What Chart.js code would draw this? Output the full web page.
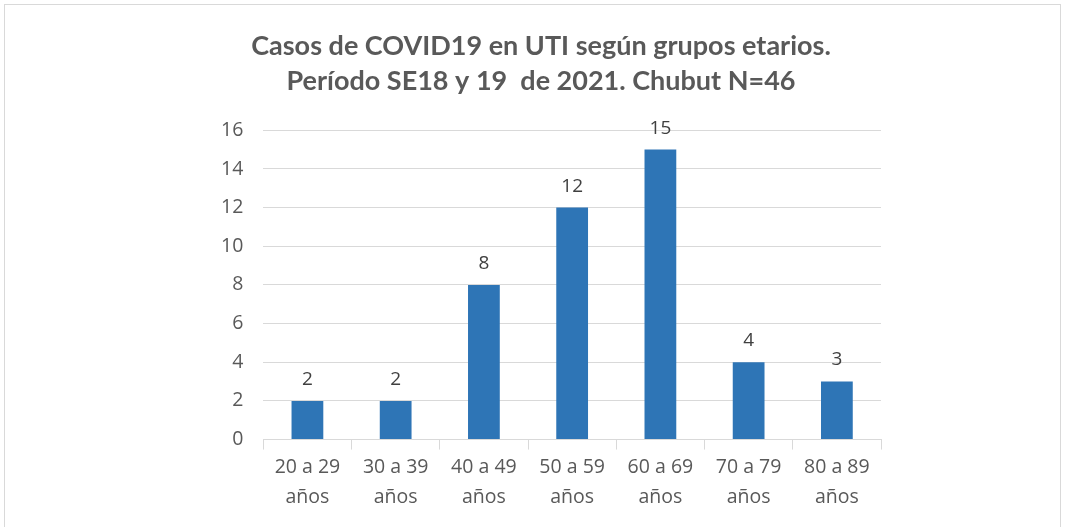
<!DOCTYPE html>
<html>
<head>
<meta charset="utf-8">
<script src="https://cdn.jsdelivr.net/npm/chart.js@4/dist/chart.umd.min.js"></script>
<style>
    html, body { margin: 0; padding: 0; background: #fff; }
    #frame {
        position: absolute; left: 4px; top: 4px;
        width: 1057px; height: 530px;
        border: 1px solid #d9d9d9; box-sizing: border-box;
    }
    #wrap { position: absolute; left: 0; top: 0; width: 1065px; height: 527px; }
</style>
</head>
<body>
<div id="frame"></div>
<div id="wrap"><canvas id="uti"></canvas></div>
<script>
// ─── DATA ─────────────────────────────────────────────────────────────────────
const TITLE_LINES = ['Casos de COVID19 en UTI según grupos etarios.', 'Período SE18 y 19  de 2021. Chubut N=46'];
const AGE_GROUPS  = [['20 a 29', 'años'], ['30 a 39', 'años'], ['40 a 49', 'años'], ['50 a 59', 'años'],
                     ['60 a 69', 'años'], ['70 a 79', 'años'], ['80 a 89', 'años']];
const CASES       = [2, 2, 8, 12, 15, 4, 3];
const Y_MAX  = 16;
const Y_STEP = 2;

const FONT = '"Open Sans", sans-serif';

// ─── DATA LABELS (valores sobre las barras) ───────────────────────────────────
const valueLabels = {
    id: 'valueLabels',
    afterDatasetsDraw(chart) {
        const ctx = chart.ctx;
        ctx.save();
        ctx.font = '19px ' + FONT;
        ctx.fillStyle = '#404040';
        ctx.textAlign = 'center';
        ctx.textBaseline = 'bottom';
        chart.getDatasetMeta(0).data.forEach((bar, i) => {
            ctx.fillText(String(CASES[i]), bar.x, bar.y - 12);
        });
        ctx.restore();
    }
};

// ─── CHART ────────────────────────────────────────────────────────────────────
new Chart(document.getElementById('uti'), {
    type: 'bar',
    data: {
        labels: AGE_GROUPS,
        datasets: [{
            data: CASES,
            backgroundColor: '#2E75B6',
            borderWidth: 0,
            categoryPercentage: 1,
            barPercentage: 0.36,
        }],
    },
    options: {
        responsive: true,
        maintainAspectRatio: false,
        animation: false,
        layout: { padding: { left: 201, right: 184, top: 16, bottom: 11 } },
        plugins: {
            legend: { display: false },
            tooltip: { enabled: false },
            title: {
                display: true,
                text: TITLE_LINES,
                color: '#595959',
                font: { family: 'Lato, ' + FONT, size: 27, weight: 'bold', lineHeight: 1.32 },
                padding: { top: 12, bottom: 31 },
            },
        },
        scales: {
            x: {
                grid: { display: true, drawOnChartArea: false, offset: true, color: '#d9d9d9', tickLength: 10 },
                border: { display: true, color: '#d9d9d9', width: 1 },
                ticks: { color: '#595959', font: { family: FONT, size: 19.5, lineHeight: 1.55 }, padding: 3, maxRotation: 0 },
            },
            y: {
                min: 0,
                max: Y_MAX,
                grid: { color: '#d9d9d9', drawTicks: false, lineWidth: 1 },
                border: { display: false },
                ticks: { stepSize: Y_STEP, color: '#595959', font: { family: FONT, size: 19.5 }, padding: 20 },
            },
        },
    },
    plugins: [valueLabels],
});
</script>
</body>
</html>
